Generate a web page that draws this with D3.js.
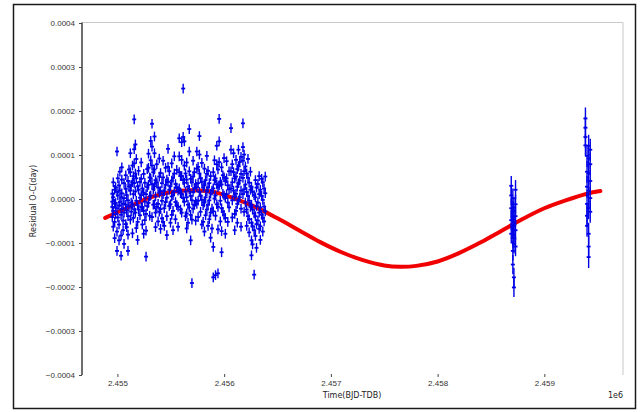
<!DOCTYPE html>
<html>
<head>
<meta charset="utf-8">
<script src="https://cdn.jsdelivr.net/npm/d3@7"></script>
<style>
  html, body { margin: 0; padding: 0; background: #fff; }
  svg { display: block; font-family: "DejaVu Sans", sans-serif; }
</style>
</head>
<body>
<div id="chart"></div>
<script>
// season 1: observation nights (BJD-TDB) and the O-C residuals of each night (days)
var season1Epochs = [
  2454952, 2454961, 2454974, 2454983, 2454996, 2455004, 2455015, 2455023, 2455034, 2455041,
  2455053, 2455062, 2455078, 2455087, 2455099, 2455108, 2455121, 2455129, 2455141, 2455149,
  2455157, 2455168, 2455177, 2455189, 2455198, 2455211, 2455223, 2455233, 2455246, 2455257,
  2455268, 2455279, 2455291, 2455302, 2455312, 2455324, 2455336, 2455347, 2455357, 2455369,
  2455381, 2455392, 2455404, 2455417, 2455428, 2455439, 2455451, 2455463, 2455474, 2455486,
  2455497, 2455509, 2455521, 2455533, 2455544, 2455556, 2455568, 2455579, 2455591, 2455602,
  2455616, 2455627, 2455638, 2455649, 2455661, 2455673, 2455686, 2455698, 2455709, 2455721,
  2455733, 2455744, 2455756, 2455768, 2455779, 2455791, 2455803, 2455815, 2455826, 2455838,
  2455849, 2455861, 2455873, 2455886, 2455898, 2455909, 2455919, 2455931, 2455942, 2455953,
  2455964, 2455976, 2455988, 2455999, 2456011, 2456023, 2456034, 2456046, 2456064, 2456076,
  2456088, 2456099, 2456111, 2456123, 2456134, 2456146, 2456158, 2456176, 2456187, 2456199,
  2456211, 2456223, 2456234, 2456246, 2456256, 2456266, 2456281, 2456293, 2456303, 2456316,
  2456328, 2456339, 2456351, 2456362, 2456374, 2456385
];
var season1Residuals = [
  [0.000012, -0.000018, -0.000041, -0.000006],
  [0.000038, 0.000004, -0.000027, -0.000063],
  [-0.000011, -0.000052, -0.000089, 0.000021],
  [0.000027, -0.000009, -0.000034],
  [0.000108, 0.000016, -0.000021, -0.000118, -0.000074],
  [0.000047, 0.000008, -0.000042],
  [-0.000015, -0.000058, -0.000094, 0.000031],
  [0.000062, 0.000019, -0.000007],
  [-0.000129, -0.000083, -0.000036, 0.000004],
  [0.000072, 0.000044, 0.000013, -0.000022],
  [-0.000011, -0.000049, -0.000071],
  [0.000036, 0.000002, -0.000031, -0.000102],
  [0.000054, 0.000023, -0.000013, -0.000057],
  [0.000009, -0.000026, -0.000064],
  [0.000041, -0.000003, -0.000039, -0.000081, -0.000118],
  [0.000067, 0.000028, -0.000017],
  [0.000104, 0.000061, 0.000019, -0.000047],
  [0.000032, -0.000008, -0.000029],
  [0.000076, 0.000038, -0.000012, -0.000078],
  [0.000052, 0.000011, -0.000043],
  [0.000181, 0.000113, 0.000081, 0.000036, -0.000024],
  [0.000124, 0.000058, 0.000017, -0.000031],
  [0.000091, 0.000047, -0.000004, -0.000066],
  [0.000029, -0.000014, -0.000052, -0.000093],
  [0.000064, 0.000021, -0.000024],
  [0.000039, 0.000003, -0.000037],
  [0.000083, 0.000046, 0.000009, -0.000018],
  [0.000024, -0.000019, -0.000058],
  [0.000057, 0.000014, -0.000027, -0.000079],
  [0.000037, -0.000006, -0.000048],
  [0.000011, -0.000034, -0.000072, -0.000131],
  [0.000068, 0.000027, -0.000016],
  [0.000103, 0.000071, 0.000032, -0.000009],
  [0.000049, 0.000006, -0.000038],
  [0.000132, 0.000088, 0.000047, 0.000008],
  [0.000171, 0.000119, 0.000076, 0.000034, -0.000041],
  [0.000061, 0.000022, -0.000013],
  [0.000142, 0.000104, 0.000067, 0.000029, -0.000012],
  [0.000043, 0.000006, -0.000031, -0.000064],
  [0.000079, 0.000038, -0.000018],
  [0.000026, -0.000011, -0.000051],
  [0.000092, 0.000051, 0.000014, -0.000029],
  [0.000059, 0.000018, -0.000023, -0.000068],
  [0.000036, -0.000004, -0.000044],
  [0.000087, 0.000049, 0.000011, -0.000052],
  [0.000018, -0.000021, -0.000061],
  [0.000071, 0.000032, -0.000007],
  [0.000044, 0.000003, -0.000039, -0.000082],
  [0.000114, 0.000073, 0.000039],
  [0.000063, 0.000021, -0.000016],
  [0.000029, -0.000012, -0.000054],
  [0.000081, 0.000042, 0.000006, -0.000036],
  [0.000048, 0.000009, -0.000027, -0.000071],
  [0.000097, 0.000058, 0.000017],
  [0.000034, -0.000007, -0.000046],
  [0.000066, 0.000026, -0.000014],
  [0.000019, -0.000018, -0.000063],
  [0.000138, 0.000097, 0.000061, 0.000024],
  [0.000052, 0.000013, -0.000024],
  [0.000129, 0.000089, 0.000052, 0.000011, -0.000031],
  [0.000251, 0.000141, 0.000043, 0.000002],
  [0.000131, 0.000076, 0.000037, -0.000006],
  [0.000058, 0.000017, -0.000039],
  [0.000083, 0.000044, 0.000004, -0.000033, -0.000067],
  [0.000028, -0.000013, -0.000054],
  [0.000159, 0.000108, 0.000063, 0.000021, -0.000019],
  [0.000046, 0.000007, -0.000036, -0.000094],
  [0.000038, -0.000003, -0.000047, -0.000191],
  [0.000087, 0.000051, 0.000016, -0.000022],
  [0.000061, 0.000024, -0.000013],
  [0.000034, -0.000006, -0.000049],
  [0.000108, 0.000069, 0.000027, -0.000011],
  [0.000073, 0.000036, -0.000004, -0.000041],
  [0.000143, 0.000101, 0.000058, 0.000016],
  [0.000047, 0.000008, -0.000029],
  [0.000082, 0.000039, -0.000002, -0.000058],
  [0.000026, -0.000014, -0.000052],
  [0.000069, 0.000031, -0.000008, -0.000074],
  [0.000043, 0.000004, -0.000037],
  [0.000098, 0.000057, 0.000018, -0.000024],
  [0.000064, 0.000026, -0.000013, -0.000061],
  [0.000036, -0.000003, -0.000046],
  [0.000052, 0.000012, -0.000031, -0.000088],
  [0.000019, -0.000022, -0.000067],
  [0.000061, 0.000024, -0.000028, -0.000109, -0.000178],
  [0.000088, 0.000043, 0.000001],
  [0.000047, 0.000008, -0.000038, -0.000173],
  [0.000121, 0.000079, 0.000033, -0.000012],
  [0.000067, 0.000027, -0.000018, -0.000069, -0.000169],
  [0.000182, 0.000131, 0.000084, 0.000031],
  [0.000039, -0.000004, -0.000051],
  [0.000072, 0.000033, -0.000021, -0.000073, -0.000121],
  [0.000054, 0.000012, -0.000029],
  [0.000093, 0.000049, 0.000008, -0.000036],
  [0.000041, 0.000003, -0.000043, -0.000079],
  [0.000086, 0.000047, 0.000011],
  [0.000031, -0.000008, -0.000052],
  [0.000063, 0.000022, -0.000019],
  [0.000161, 0.000112, 0.000063, 0.000024],
  [0.000079, 0.000038, -0.000003, -0.000042],
  [0.000104, 0.000061, 0.000019],
  [0.000047, 0.000006, -0.000034, -0.000071],
  [0.000089, 0.000051, 0.000012, -0.000027],
  [0.000068, 0.000028, -0.000011, -0.000054],
  [0.000112, 0.000074, 0.000036, -0.000003],
  [0.000084, 0.000042, 0.000004],
  [0.000096, 0.000057, 0.000019, -0.000022, -0.000063],
  [0.000172, 0.000118, 0.000087, 0.000048, 0.000011],
  [0.000101, 0.000063, 0.000022, -0.000029],
  [0.000074, 0.000033, -0.000008],
  [0.000058, 0.000016, -0.000024, -0.000061],
  [0.000091, 0.000048, 0.000007, -0.000039],
  [0.000037, -0.000004, -0.000046, -0.000076],
  [0.000062, 0.000021, -0.000018],
  [0.000028, -0.000013, -0.000054, -0.000094, -0.000128],
  [0.000016, -0.000024, -0.000062, -0.000103],
  [0.000009, -0.000033, -0.000071, -0.000172],
  [0.000043, 0.000004, -0.000039, -0.000084],
  [0.000026, -0.000016, -0.000057, -0.000111],
  [0.000034, -0.000008, -0.000049],
  [0.000052, 0.000011, -0.000031, -0.000068],
  [0.000021, -0.000019, -0.000062, -0.000093],
  [0.000046, 0.000007, -0.000036],
  [0.000038, -0.000002, -0.000043, -0.000074],
  [0.000024, -0.000017, -0.000051],
  [0.000051, 0.000013, -0.000028]
];

// season 2 and season 3: the two late, short campaigns
var season2Epochs = [2458690, 2458705, 2458715, 2458730];
var season2Residuals = [
  [0.000030, 0.000008, -0.000021, -0.000048, -0.000079],
  [0.000002, -0.000027, -0.000046, -0.000058, -0.000069, -0.000088, -0.000118, -0.000149],
  [-0.000019, -0.000041, -0.000062, -0.000081, -0.000102, -0.000178, -0.000201],
  [0.000021, -0.000012, -0.000039, -0.000071, -0.000108]
];
var season3Epochs = [2459385, 2459400, 2459415, 2459430];
var season3Residuals = [
  [0.000183, 0.000162, 0.000141, 0.000122],
  [0.000098, 0.000062, 0.000028, -0.000011, -0.000038, -0.000061],
  [0.000121, 0.000092, 0.000058, 0.000019, -0.000021, -0.000079, -0.000108, -0.000132],
  [0.000112, 0.000079, 0.000041, 0.000002, -0.000029]
];

// typical 1-sigma timing error of each season (days)
var seasonErrors = [0.000011, 0.000022, 0.000025];

// fitted model curve
var modelTimes = [
  2454885, 2455100, 2455300, 2455500, 2455700, 2455900, 2456100, 2456300,
  2456500, 2456700, 2456900, 2457100, 2457300, 2457500, 2457650, 2457800,
  2458000, 2458200, 2458400, 2458600, 2458800, 2459000, 2459200, 2459400, 2459525
];
var modelValues = [
  -0.000043, -0.000019, 0.000003, 0.000016, 0.000020, 0.000016, 0.000001, -0.000019,
  -0.000044, -0.000071, -0.000098, -0.000121, -0.000139, -0.000151, -0.000154, -0.000152,
  -0.000142, -0.000123, -0.000099, -0.000072, -0.000045, -0.000021, -0.000003, 0.000012, 0.000018
];

var yTicks = [-0.0004, -0.0003, -0.0002, -0.0001, 0, 0.0001, 0.0002, 0.0003, 0.0004];
var xTicks = [2455000, 2456000, 2457000, 2458000, 2459000];

var width = 640,
    height = 412;
var plot = {left: 82, right: 623, top: 23, bottom: 375};

var svg = d3.select("#chart").append("svg")
    .attr("width", width)
    .attr("height", height);

// outer frame round the whole figure
svg.append("rect")
    .attr("x", 13.5).attr("y", 4.5)
    .attr("width", 622).attr("height", 404)
    .attr("fill", "none")
    .attr("stroke", "#1a1a1a")
    .attr("stroke-width", 1.5);

var x = d3.scaleLinear()
    .domain([2454668, 2459737])
    .range([plot.left, plot.right]);

var y = d3.scaleLinear()
    .domain([-0.0004, 0.0004])
    .range([plot.bottom, plot.top]);

// top and right spines are pale, left one dark, no bottom spine
svg.append("line")
    .attr("x1", plot.left).attr("x2", plot.right)
    .attr("y1", plot.top - 0.5).attr("y2", plot.top - 0.5)
    .attr("stroke", "#c8c8c8").attr("stroke-width", 1);
svg.append("line")
    .attr("x1", plot.right).attr("x2", plot.right)
    .attr("y1", plot.top - 0.5).attr("y2", plot.bottom)
    .attr("stroke", "#c8c8c8").attr("stroke-width", 1);

var yAxis = svg.append("g")
    .attr("transform", "translate(" + plot.left + ",0)")
    .call(d3.axisLeft(y)
      .tickValues(yTicks)
      .tickSize(3)
      .tickPadding(4)
      .tickFormat(function(d) { return (d < 0 ? "\u2212" : "") + Math.abs(d).toFixed(4); }));
yAxis.select(".domain")
    .attr("d", "M0," + (plot.top - 0.5) + "V" + plot.bottom)
    .attr("stroke", "#6e6e6e").attr("stroke-width", 2);

var xAxis = svg.append("g")
    .attr("transform", "translate(0," + (plot.bottom - 1) + ")")
    .call(d3.axisBottom(x)
      .tickValues(xTicks)
      .tickSize(3)
      .tickPadding(3)
      .tickFormat(function(d) { return (d / 1e6).toFixed(3); }));
xAxis.select(".domain").remove();

svg.selectAll(".tick line").attr("stroke", "#444");
svg.selectAll(".tick text")
    .attr("fill", "#333")
    .style("font-size", "8px");

svg.append("text")
    .attr("transform", "translate(36," + ((plot.top + plot.bottom) / 2 + 2) + ") rotate(-90)")
    .attr("text-anchor", "middle")
    .attr("fill", "#222")
    .style("font-size", "8px")
    .text("Residual O-C(day)");

svg.append("text")
    .attr("x", 352)
    .attr("y", 398)
    .attr("text-anchor", "middle")
    .attr("fill", "#222")
    .style("font-size", "8px")
    .text("Time(BJD-TDB)");

svg.append("text")
    .attr("x", plot.right)
    .attr("y", 398)
    .attr("text-anchor", "end")
    .attr("fill", "#222")
    .style("font-size", "8px")
    .text("1e6");

// model
var model = modelTimes.map(function(t, i) { return [t, modelValues[i]]; });
svg.append("path")
    .datum(model)
    .attr("fill", "none")
    .attr("stroke", "#f00000")
    .attr("stroke-width", 4)
    .attr("stroke-linecap", "round")
    .attr("d", d3.line()
      .curve(d3.curveCatmullRom)
      .x(function(d) { return x(d[0]); })
      .y(function(d) { return y(d[1]); }));

// flatten nights into single measurements
var points = [];
[[season1Epochs, season1Residuals], [season2Epochs, season2Residuals], [season3Epochs, season3Residuals]]
  .forEach(function(season, s) {
    season[0].forEach(function(t, i) {
      season[1][i].forEach(function(r) {
        points.push({t: t, r: r, e: seasonErrors[s]});
      });
    });
  });

var marks = svg.append("g")
    .attr("stroke", "#0000e8")
    .attr("fill", "none");

marks.selectAll("line.bar")
    .data(points)
  .enter().append("line")
    .attr("class", "bar")
    .attr("x1", function(d) { return x(d.t); })
    .attr("x2", function(d) { return x(d.t); })
    .attr("y1", function(d) { return y(d.r - d.e); })
    .attr("y2", function(d) { return y(d.r + d.e); })
    .attr("stroke-width", 1.4);

marks.selectAll("line.dot")
    .data(points)
  .enter().append("line")
    .attr("class", "dot")
    .attr("x1", function(d) { return x(d.t) - 2; })
    .attr("x2", function(d) { return x(d.t) + 2; })
    .attr("y1", function(d) { return y(d.r); })
    .attr("y2", function(d) { return y(d.r); })
    .attr("stroke-width", 1.8);
</script>
</body>
</html>
